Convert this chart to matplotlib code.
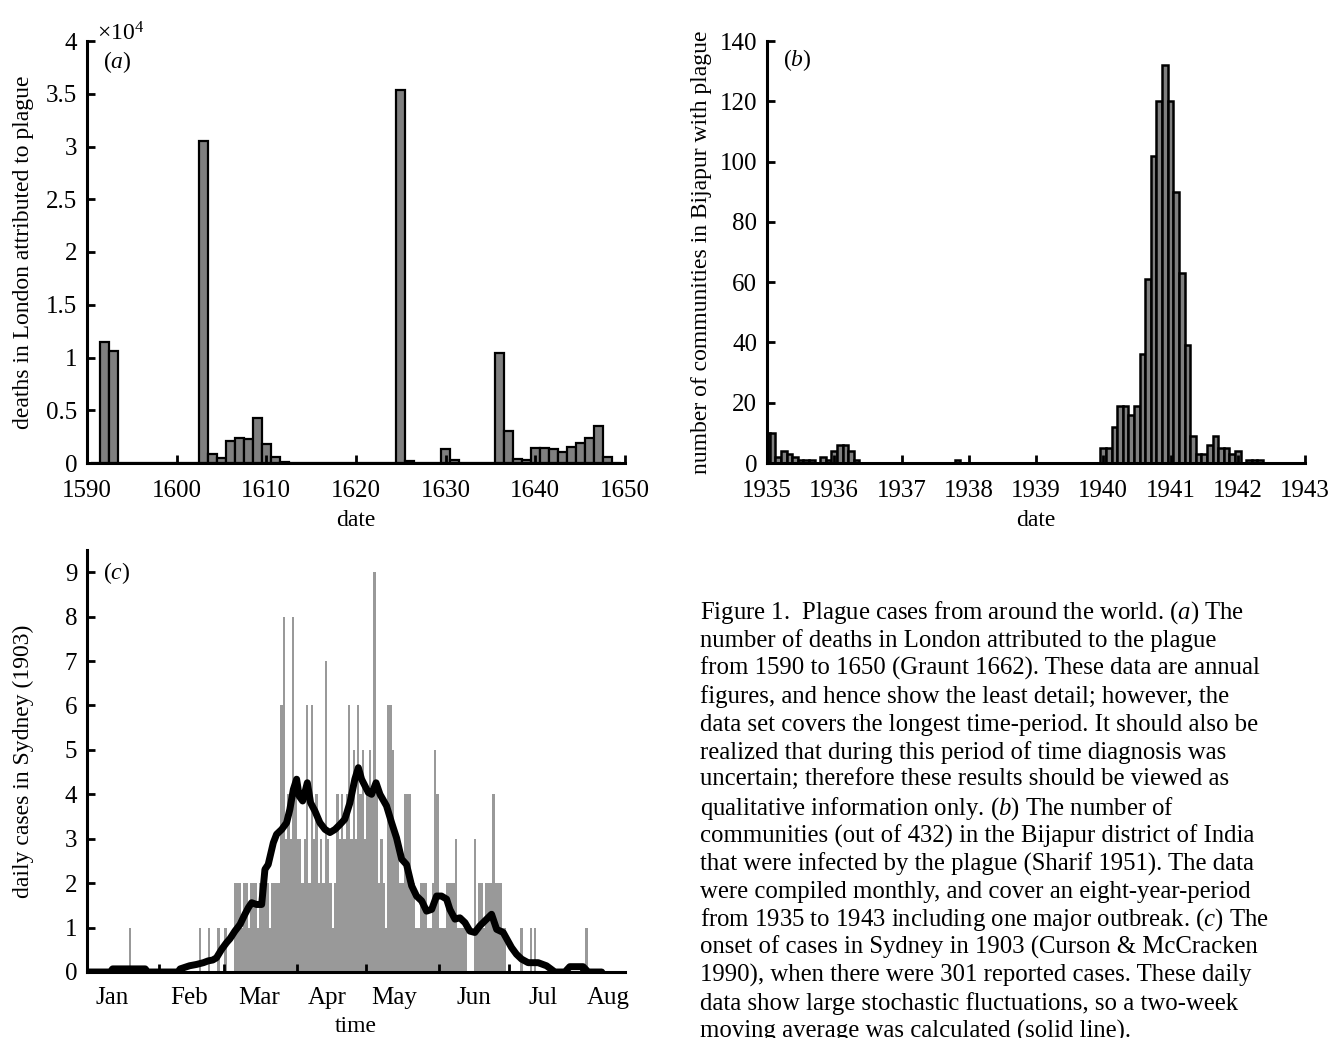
import matplotlib.pyplot as plt
import numpy as np

plt.rcParams['font.family'] = 'Liberation Serif'
plt.rcParams['mathtext.fontset'] = 'custom'
plt.rcParams['mathtext.rm'] = 'Liberation Serif'
plt.rcParams['mathtext.it'] = 'Liberation Serif:italic'

# (a) London, deaths attributed to plague per year (1591-1649)
london_years = list(range(1591, 1650))
london_deaths = [0, 11440, 10650, 0, 0, 0, 0, 0, 0, 0, 0, 0,      # 1591-1602
                 30550, 850, 440, 2120, 2340, 2270, 4230, 1800,    # 1603-1610
                 600, 60, 0, 0, 0, 0, 0, 0, 0, 0, 0, 0, 0, 0,       # 1611-1624
                 35360, 150, 0, 0, 0, 1300, 250, 0, 0, 0, 0,        # 1625-1635
                 10400, 3060, 350, 300, 1450, 1390, 1300, 1000,     # 1636-1643
                 1490, 1860, 2370, 3540, 600, 0]                    # 1644-1649

# (b) Bijapur, communities with plague per month, Jan 1935 - Dec 1942
bijapur_start = 1935
bijapur_counts = [10, 10, 2, 4, 3, 2, 1, 1, 1, 0, 2, 1,           # 1935
                  4, 6, 6, 4, 1, 0, 0, 0, 0, 0, 0, 0,             # 1936
                  0, 0, 0, 0, 0, 0, 0, 0, 0, 0, 1, 0,             # 1937
                  0, 0, 0, 0, 0, 0, 0, 0, 0, 0, 0, 0,             # 1938
                  0, 0, 0, 0, 0, 0, 0, 0, 0, 0, 0, 0,             # 1939
                  5, 5, 12, 19, 19, 16, 19, 36, 61, 102, 120, 132,  # 1940
                  120, 90, 63, 39, 9, 3, 3, 6, 9, 5, 5, 3,        # 1941
                  4, 0, 1, 1, 1, 0, 0, 0, 0, 0, 0, 0]             # 1942

# (c) Sydney 1903, daily cases from 1 January
sydney_daily = [0, 0, 0, 0, 0, 0, 0, 0, 0, 0,
                0, 0, 0, 0, 0, 0, 0, 0, 1, 0,
                0, 0, 0, 0, 0, 0, 0, 0, 0, 0,
                0, 0, 0, 0, 0, 0, 0, 0, 0, 0,
                0, 0, 0, 0, 0, 0, 0, 0, 1, 0,
                0, 0, 1, 0, 0, 0, 1, 0, 0, 1,
                0, 0, 0, 2, 2, 2, 1, 2, 2, 1,
                2, 2, 2, 1, 2, 2, 2, 2, 1, 2,
                2, 2, 2, 6, 8, 3, 4, 3, 8, 4,
                3, 3, 2, 3, 6, 2, 6, 3, 4, 2,
                3, 2, 7, 3, 2, 1, 2, 4, 3, 4,
                3, 4, 6, 3, 5, 3, 6, 4, 5, 3,
                4, 5, 4, 9, 4, 2, 3, 2, 1, 6,
                6, 5, 3, 3, 2, 2, 4, 4, 4, 2,
                2, 1, 1, 2, 2, 2, 1, 1, 2, 5,
                4, 1, 1, 1, 2, 2, 2, 2, 3, 1,
                1, 1, 1, 0, 0, 0, 3, 1, 2, 2,
                1, 2, 2, 2, 4, 2, 2, 2, 1, 1,
                0, 0, 0, 0, 0, 0, 1, 0, 0, 0,
                1, 0, 1, 0, 0, 0, 0, 0, 0, 0,
                0, 0, 0, 0, 0, 0, 0, 0, 0, 0,
                0, 0, 0, 0, 1, 0, 0, 0, 0, 0,
                0, 0, 0, 0, 0, 0, 0, 0, 0, 0, 0]

# two-week moving average
ma_day = [0, 10, 11, 25, 26, 39, 40, 44, 47, 50, 52, 54, 55.6, 57.8, 59.9,
          61.4, 63.5, 65.7, 67.8, 69.3, 70.7, 72.8, 75, 76.4, 77.8, 80, 81.4,
          83.6, 85.7, 87.1, 88.6, 90, 91.1, 92.6, 94.6, 96, 97.9, 100, 102.2,
          104.3, 106.5, 108.6, 110.7, 112.9, 115, 116.5, 117.9, 120.8, 122.2,
          124.1, 125.8, 128.6, 130.8, 132.9, 135.1, 137.2, 139.4, 141.5,
          143.7, 145.8, 148, 150.1, 152.2, 154.4, 155.8, 158, 160.1, 162.3,
          164.4, 166.5, 168.7, 171.6, 173.7, 175.9, 178.7, 182.3, 184.4,
          186.6, 189.4, 193.7, 197.3, 200.9, 205.2, 207.3, 213, 215.2, 221]
ma_cases = [0, 0, 0.07, 0.07, 0, 0, 0.07, 0.14, 0.17, 0.21, 0.25, 0.27, 0.32,
            0.51, 0.66, 0.75, 0.92, 1.07, 1.30, 1.45, 1.56, 1.52, 1.52, 2.31,
            2.42, 2.91, 3.10, 3.21, 3.36, 3.66, 4.11, 4.34, 3.96, 3.85, 4.26,
            3.81, 3.62, 3.36, 3.21, 3.14, 3.21, 3.32, 3.44, 3.81, 4.34, 4.60,
            4.34, 4.04, 4.00, 4.26, 4.00, 3.74, 3.36, 3.02, 2.54, 2.42, 1.94,
            1.71, 1.60, 1.37, 1.41, 1.71, 1.71, 1.64, 1.41, 1.19, 1.22, 1.11,
            0.92, 0.89, 1.04, 1.19, 1.30, 0.96, 0.89, 0.55, 0.40, 0.29, 0.21,
            0.21, 0.14, 0, 0, 0.12, 0.12, 0, 0]

month_starts = [31, 59, 90, 120, 151, 181, 212]
month_names = ['Jan', 'Feb', 'Mar', 'Apr', 'May', 'Jun', 'Jul', 'Aug']
month_label_at = [11, 44, 74, 103, 132, 166, 196, 224]

caption = [
    r'Figure 1.  Plague cases from around the world. ($\it{a}$) The',
    'number of deaths in London attributed to the plague',
    'from 1590 to 1650 (Graunt 1662). These data are annual',
    'figures, and hence show the least detail; however, the',
    'data set covers the longest time-period. It should also be',
    'realized that during this period of time diagnosis was',
    'uncertain; therefore these results should be viewed as',
    r'qualitative information only. ($\it{b}$) The number of',
    'communities (out of 432) in the Bijapur district of India',
    'that were infected by the plague (Sharif 1951). The data',
    'were compiled monthly, and cover an eight-year-period',
    r'from 1935 to 1943 including one major outbreak. ($\it{c}$) The',
    'onset of cases in Sydney in 1903 (Curson & McCracken',
    '1990), when there were 301 reported cases. These daily',
    'data show large stochastic fluctuations, so a two-week',
    'moving average was calculated (solid line).',
]

W, H = 1340, 1038
fig = plt.figure(figsize=(W / 100, H / 100), dpi=100)

def px_axes(x0, x1, ybot, ytop):
    return fig.add_axes([x0 / W, 1 - ybot / H, (x1 - x0) / W, (ybot - ytop) / H])

def style(ax):
    for s in ('top', 'right'):
        ax.spines[s].set_visible(False)
    for s in ('left', 'bottom'):
        ax.spines[s].set_linewidth(2.2)
    ax.tick_params(direction='in', length=6, width=2, labelsize=18)
    ax.tick_params(axis='x', pad=12)
    ax.tick_params(axis='y', pad=7)

tsize = 17

# ---- (a)
ax = px_axes(87, 625, 463, 41)
style(ax)
ax.bar(london_years, np.array(london_deaths) / 1e4, width=1.0,
       color='#7f7f7f', edgecolor='black', linewidth=1.6)
ax.set_xlim(1590, 1650)
ax.set_ylim(0, 4)
ax.set_xticks(range(1590, 1651, 10))
ax.set_yticks(np.arange(0, 4.01, 0.5))
ax.set_yticklabels(['0', '0.5', '1', '1.5', '2', '2.5', '3', '3.5', '4'])
ax.set_xlabel('date', fontsize=tsize)
ax.xaxis.set_label_coords(0.5, -0.112)
ax.set_ylabel('deaths in London attributed to plague', fontsize=tsize)
ax.yaxis.set_label_coords(-0.099, 0.5)
ax.text(0.03, 0.95, r'($\it{a}$)', transform=ax.transAxes, fontsize=tsize,
        ha='left', va='center')
ax.text(0.018, 1.018, r'$\times$10$^4$', transform=ax.transAxes, fontsize=tsize,
        ha='left', va='center')

# ---- (b)
ax = px_axes(767, 1305, 463, 41)
style(ax)
bx = bijapur_start + np.arange(len(bijapur_counts)) / 12
ax.bar(bx, bijapur_counts, width=1 / 12, color='#7f7f7f',
       edgecolor='black', linewidth=1.8)
ax.set_xlim(1935, 1943)
ax.set_ylim(0, 140)
ax.set_xticks(range(1935, 1944))
ax.set_yticks(range(0, 141, 20))
ax.set_xlabel('date', fontsize=tsize)
ax.xaxis.set_label_coords(0.5, -0.112)
ax.set_ylabel('number of communities in Bijapur with plague', fontsize=tsize)
ax.yaxis.set_label_coords(-0.103, 0.5)
ax.text(0.03, 0.955, r'($\it{b}$)', transform=ax.transAxes, fontsize=tsize,
        ha='left', va='center')

# ---- (c)
ax = px_axes(87, 625, 972, 550)
style(ax)
days = np.arange(len(sydney_daily))
ax.bar(days, sydney_daily, width=1.0, align='edge', color='#999999', linewidth=0)
ax.plot(ma_day, ma_cases, color='black', linewidth=5, solid_joinstyle='round',
        solid_capstyle='round')
ax.set_xlim(0, 231)
ax.set_ylim(0, 9.5)
ax.set_yticks(range(0, 10))
ax.set_xticks(month_starts)
ax.set_xticklabels([])
ax.set_xticks(month_label_at, minor=True)
ax.set_xticklabels(month_names, minor=True)
ax.tick_params(which='minor', length=0, labelsize=18, pad=11)
ax.set_xlabel('time', fontsize=tsize)
ax.xaxis.set_label_coords(0.5, -0.104)
ax.set_ylabel('daily cases in Sydney (1903)', fontsize=tsize)
ax.yaxis.set_label_coords(-0.099, 0.5)
ax.text(0.03, 0.945, r'($\it{c}$)', transform=ax.transAxes, fontsize=tsize,
        ha='left', va='center')

# ---- caption
for i, line in enumerate(caption):
    fig.text(700 / W, 1 - (619 + i * 27.9) / H, line, fontsize=17.8,
             ha='left', va='baseline')

fig.savefig('out.png', dpi=100)
